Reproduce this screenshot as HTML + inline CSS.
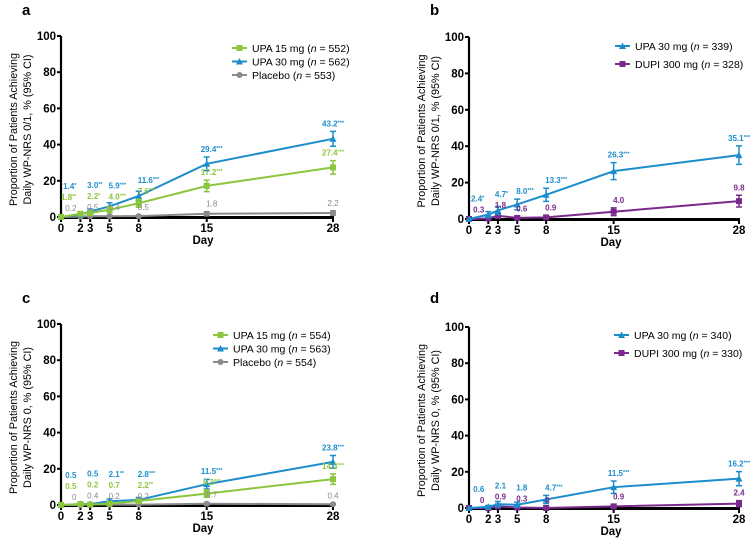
<!DOCTYPE html>
<html><head><meta charset="utf-8">
<style>
body{margin:0;background:#fff;}
svg{display:block;font-family:"Liberation Sans",Arial,sans-serif;}
</style></head>
<body>
<svg id="chart" width="755" height="539" viewBox="0 0 755 539"></svg>
<script>
const days = [0, 2, 3, 5, 8, 15, 28];
const yTicks = [0, 20, 40, 60, 80, 100];
// Panel a
const aUpa15 = [0, 1.8, 2.2, 4.0, 7.6, 17.2, 27.4];
const aUpa15Stars = ["", "**", "*", "***", "***", "***", "***"];
const aUpa30 = [0, 1.4, 3.0, 5.9, 11.6, 29.4, 43.2];
const aUpa30Stars = ["", "*", "**", "***", "***", "***", "***"];
const aPlacebo = [0, 0.2, 0.5, 0.4, 0.5, 1.8, 2.2];
// Panel b
const bUpa30 = [0, 2.4, 4.7, 8.0, 13.3, 26.3, 35.1];
const bUpa30Stars = ["", "*", "*", "***", "***", "***", "***"];
const bDupi = [0, 0.3, 1.8, 0.6, 0.9, 4.0, 9.8];
// Panel c
const cUpa15 = [0, 0.5, 0.2, 0.7, 2.2, 6.3, 14.3];
const cUpa15Stars = ["", "", "", "", "**", "***", "***"];
const cUpa30 = [0, 0.5, 0.5, 2.1, 2.8, 11.5, 23.8];
const cUpa30Stars = ["", "", "", "**", "***", "***", "***"];
const cPlacebo = [0, 0, 0.4, 0.2, 0.2, 0.7, 0.4];
// Panel d
const dUpa30 = [0, 0.6, 2.1, 1.8, 4.7, 11.5, 16.2];
const dUpa30Stars = ["", "", "", "", "***", "***", "***"];
const dDupi = [0, 0, 0.9, 0.3, 0, 0.9, 2.4];

const GREEN = "#8cc63e", BLUE = "#1c8dcc", GRAY = "#8a8a8a", PURPLE = "#7a2a8c";
const NS = "http://www.w3.org/2000/svg";
const svg = document.getElementById("chart");
function mk(tag, attrs, parent) {
  const e = document.createElementNS(NS, tag);
  for (const k in attrs) e.setAttribute(k, attrs[k]);
  (parent || svg).appendChild(e);
  return e;
}
function marker(g, shape, x, y, color) {
  let m;
  if (shape === "square") m = mk("rect", {x: x - 3, y: y - 3, width: 6, height: 6, fill: color}, g);
  else if (shape === "triangle") m = mk("polygon", {points: `${x},${y - 3.5} ${x + 3.5},${y + 3} ${x - 3.5},${y + 3}`, fill: color}, g);
  else m = mk("circle", {cx: x, cy: y, r: 3, fill: color}, g);
  return m;
}

const panels = [
  {letter: "a", lx: 22, ly: 15, x0: 61, x1: 333, y0: 217, y1: 36, metric: "0/1",
   legend: {x: 232, y: 48, step: 13.5},
   series: [
     {name: "UPA 15 mg", n: 552, vals: aUpa15, stars: aUpa15Stars, color: GREEN, shape: "square", key: "upa15"},
     {name: "UPA 30 mg", n: 562, vals: aUpa30, stars: aUpa30Stars, color: BLUE, shape: "triangle", key: "upa30"},
     {name: "Placebo", n: 553, vals: aPlacebo, stars: null, color: GRAY, shape: "circle", key: "placebo"}],
   order: ["upa30", "upa15", "placebo"]},
  {letter: "b", lx: 430, ly: 15, x0: 469, x1: 739, y0: 219, y1: 37, metric: "0/1",
   legend: {x: 615, y: 46, step: 18},
   series: [
     {name: "UPA 30 mg", n: 339, vals: bUpa30, stars: bUpa30Stars, color: BLUE, shape: "triangle", key: "upa30"},
     {name: "DUPI 300 mg", n: 328, vals: bDupi, stars: null, color: PURPLE, shape: "square", key: "dupi"}],
   order: ["upa30", "dupi"]},
  {letter: "c", lx: 22, ly: 303, x0: 61, x1: 333, y0: 505, y1: 324, metric: "0",
   legend: {x: 213, y: 335, step: 13.5},
   series: [
     {name: "UPA 15 mg", n: 554, vals: cUpa15, stars: cUpa15Stars, color: GREEN, shape: "square", key: "upa15"},
     {name: "UPA 30 mg", n: 563, vals: cUpa30, stars: cUpa30Stars, color: BLUE, shape: "triangle", key: "upa30"},
     {name: "Placebo", n: 554, vals: cPlacebo, stars: null, color: GRAY, shape: "circle", key: "placebo"}],
   order: ["upa30", "upa15", "placebo"]},
  {letter: "d", lx: 430, ly: 303, x0: 469, x1: 739, y0: 508, y1: 327, metric: "0",
   legend: {x: 614, y: 335, step: 18},
   series: [
     {name: "UPA 30 mg", n: 340, vals: dUpa30, stars: dUpa30Stars, color: BLUE, shape: "triangle", key: "upa30"},
     {name: "DUPI 300 mg", n: 330, vals: dDupi, stars: null, color: PURPLE, shape: "square", key: "dupi"}],
   order: ["upa30", "dupi"]}
];

function ci(p, n) { const q = p / 100; return 196 * Math.sqrt(Math.max(q * (1 - q), 0.0001) / n); }
function fmt(v) { return v === 0 ? "0" : v.toFixed(1); }

panels.forEach(P => {
  const g = mk("g", {});
  
  
  const xS = d => P.x0 + (d / 28) * (P.x1 - P.x0);
  const yS = v => P.y0 - (v / 100) * (P.y0 - P.y1);

  const lt = mk("text", {x: P.lx, y: P.ly, "font-size": 15, "font-weight": "bold", fill: "#000"}, g);
  lt.textContent = P.letter;
  
  

  const ya = mk("line", {x1: P.x0, y1: P.y1, x2: P.x0, y2: P.y0, stroke: "#000", "stroke-width": 2.2}, g);
  
  
  yTicks.forEach(t => {
    mk("line", {x1: P.x0 - 4, y1: yS(t), x2: P.x0, y2: yS(t), stroke: "#000", "stroke-width": 2}, g);
    const tx = mk("text", {x: P.x0 - 5, y: yS(t) + 4, "font-size": 11.5, "font-weight": "bold", "text-anchor": "end"}, g);
    tx.textContent = t;
    
    
  });
  const xa = mk("line", {x1: P.x0, y1: P.y0 + 0.5, x2: P.x1 + 1, y2: P.y0 + 0.5, stroke: "#000", "stroke-width": 3}, g);
  
  
  days.forEach(d => {
    mk("line", {x1: xS(d), y1: P.y0, x2: xS(d), y2: P.y0 + 5, stroke: "#000", "stroke-width": 2}, g);
    const tx = mk("text", {x: xS(d), y: P.y0 + 15, "font-size": 11.5, "font-weight": "bold", "text-anchor": "middle"}, g);
    tx.textContent = d;
    
    
  });
  const xt = mk("text", {x: P.x0 + 142, y: P.y0 + 27, "font-size": 11.5, "font-weight": "bold", "text-anchor": "middle"}, g);
  xt.textContent = "Day";
  
  

  const cy = (P.y0 + P.y1) / 2 + 3;
  const ax = P.x0 - 38;
  const yt = mk("text", {transform: `translate(${ax},${cy}) rotate(-90)`, "font-size": 10.8, "text-anchor": "middle"}, g);
  
  
  const t1 = mk("tspan", {x: 0, y: -6}, yt); t1.textContent = "Proportion of Patients Achieving";
  const t2 = mk("tspan", {x: 0, y: 8}, yt); t2.textContent = "Daily WP-NRS " + P.metric + ", % (95% CI)";

  const drawOrder = P.series.slice().reverse();
  drawOrder.forEach(s => {
    const sg = mk("g", {}, g);
    
    
    const pts = days.map((d, i) => xS(d) + "," + yS(s.vals[i])).join(" ");
    const pl = mk("polyline", {points: pts, fill: "none", stroke: s.color, "stroke-width": 2}, sg);
    
    
    days.forEach((d, i) => {
      const v = s.vals[i];
      if (i > 0 && v > 0) {
        const h = ci(v, s.n);
        const eb = mk("path", {d: `M${xS(d)},${yS(v + h)}V${yS(Math.max(v - h, 0))}M${xS(d) - 3},${yS(v + h)}h6M${xS(d) - 3},${yS(Math.max(v - h, 0))}h6`, stroke: s.color, "stroke-width": 1.5, fill: "none"}, sg);
        
        
      }
      const m = marker(sg, s.shape, xS(d), yS(v), s.color);
      
      
    });
  });

  const ordered = P.order.map(k => P.series.find(s => s.key === k)).reverse();
  days.forEach((d, i) => {
    if (i === 0) return;
    let prev = null;
    let anchor = "middle", lx = xS(d);
    if (d === 2) { anchor = "end"; lx = xS(d) - 4; }
    else if (d === 3) { anchor = "start"; lx = xS(d) - 3; }
    else if (d === 5 || d === 8) { anchor = "start"; lx = xS(d) - 1; }
    else if (d === 15) { lx = xS(d) + 5; }
    ordered.forEach(s => {
      const v = s.vals[i];
      const top = v + (v > 0 ? ci(v, s.n) : 0);
      let yb = yS(top) - 5;
      if (prev !== null && yb > prev - 11) yb = prev - 11;
      prev = yb;
      const t = mk("text", {x: lx, y: yb, "font-size": 8, "font-weight": s.key === "placebo" ? "normal" : "bold", fill: s.color, "text-anchor": anchor}, g);
      
      
      t.textContent = fmt(v);
      if (s.stars && s.stars[i]) {
        const st = mk("tspan", {"font-size": 5.5, dy: -2}, t);
        st.textContent = s.stars[i];
      }
    });
  });

  P.series.forEach((s, k) => {
    const lg = mk("g", {}, g);
    
    
    const y = P.legend.y + k * P.legend.step;
    mk("line", {x1: P.legend.x, y1: y, x2: P.legend.x + 15, y2: y, stroke: s.color, "stroke-width": 2}, lg);
    marker(lg, s.shape, P.legend.x + 7.5, y, s.color);
    const t = mk("text", {x: P.legend.x + 20, y: y + 4, "font-size": 10.5, fill: "#000"}, lg);
    t.textContent = s.name + " (";
    const it = mk("tspan", {"font-style": "italic"}, t); it.textContent = "n";
    const rest = mk("tspan", {}, t); rest.textContent = " = " + s.n + ")";
  });
});
</script>
</body></html>
